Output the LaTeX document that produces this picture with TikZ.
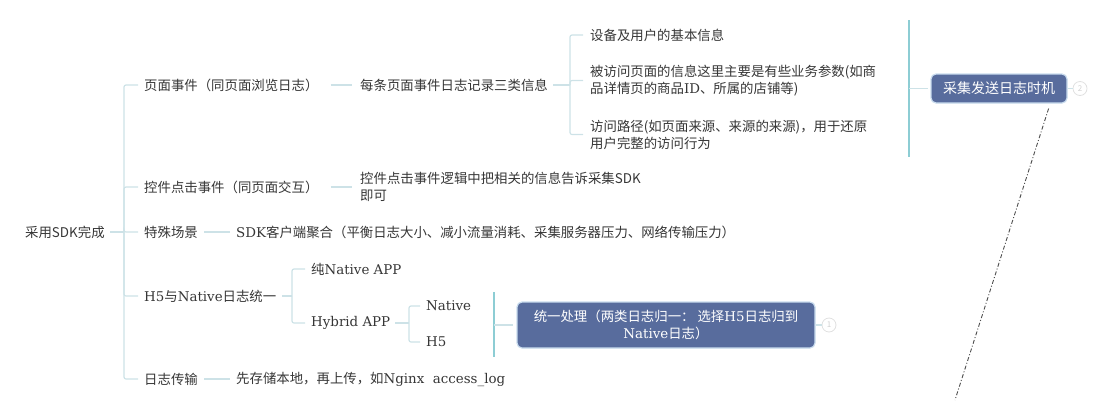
\documentclass[tikz,border=0pt]{standalone}
\usepackage{fontspec}
\setmainfont{Noto Sans CJK SC}
\newfontfamily\latin{DejaVu Serif}
\newcommand{\en}[1]{{\latin #1}}
\usetikzlibrary{calc}
\definecolor{linkc}{HTML}{CDE2E7}
\definecolor{sumc}{HTML}{8DCDD4}
\definecolor{boxc}{HTML}{586C9D}
\definecolor{boxedge}{HTML}{C9DCEE}
\definecolor{textc}{HTML}{363636}
\tikzset{
    topic/.style={anchor=west, inner sep=0pt, text=textc, align=left,
        font=\fontsize{13.4}{17}\selectfont},
    link/.style={draw=linkc, line width=1.2pt, rounded corners=2pt},
    bracket/.style={draw=sumc, line width=1.5pt},
    sumbox/.style={fill=boxc, draw=boxedge, line width=1.2pt, rounded corners=5pt,
        text=white, align=center, inner sep=0pt},
    fold/.style={circle, draw=black!12, line width=0.8pt, minimum size=14pt,
        inner sep=0pt, text=black!18, font=\fontsize{8}{8}\selectfont},
    relation/.style={draw=black!70, line width=0.9pt, dash pattern=on 4pt off 2pt on 1pt off 2pt}
}

\begin{document}
\begin{tikzpicture}[x=1pt, y=-1pt]
    \useasboundingbox (0,0) rectangle (1112,400);

    % root and first level
    \node[topic] (root) at (25,232) {采用SDK完成};
    \coordinate (s0) at (124,232);

    \node[topic] (c1) at (144,85) {页面事件（同页面浏览日志）};
    \node[topic] (c2) at (144,187) {控件点击事件（同页面交互）};
    \node[topic] (c3) at (144,232) {特殊场景};
    \node[topic] (c4) at (144,296) {\en{H5}与\en{Native}日志统一};
    \node[topic] (c5) at (144,379) {日志传输};

    \draw[link] ([xshift=5pt]root.east) -- (s0);
    \foreach \c in {c1,c2,c3,c4,c5}
        \draw[link] (s0) |- ([xshift=-6pt]\c.west);

    % page events
    \node[topic] (g1) at (360,85) {每条页面事件日志记录三类信息};
    \draw[link] ([xshift=12pt]c1.east) -- ([xshift=-8pt]g1.west);
    \coordinate (s1) at (570,85);
    \node[topic] (l1) at (590,35) {设备及用户的基本信息};
    \node[topic] (l2) at (590,80.5) {被访问页面的信息这里主要是有些业务参数(如商\\品详情页的商品\en{ID}、所属的店铺等)};
    \node[topic] (l3) at (590,134.5) {访问路径(如页面来源、来源的来源)，用于还原\\用户完整的访问行为};
    \draw[link] ([xshift=5pt]g1.east) -- (s1);
    \foreach \l in {l1,l2,l3}
        \draw[link] (s1) |- ([xshift=-7pt]\l.west);

    % click events, special cases
    \node[topic] (g2) at (360,187) {控件点击事件逻辑中把相关的信息告诉采集SDK\\即可};
    \draw[link] ([xshift=12pt]c2.east) -- ([xshift=-8pt]g2.west);
    \node[topic] (g3) at (236,232) {\en{SDK}客户端聚合（平衡日志大小、减小流量消耗、采集服务器压力、网络传输压力）};
    \draw[link] ([xshift=6pt]c3.east) -- ([xshift=-6pt]g3.west);

    % H5 and Native
    \coordinate (s4) at (292,296);
    \node[topic] (h1) at (311,269) {纯\en{Native APP}};
    \node[topic] (h2) at (311,323) {\en{Hybrid APP}};
    \draw[link] ([xshift=6pt]c4.east) -- (s4);
    \foreach \h in {h1,h2}
        \draw[link] (s4) |- ([xshift=-6pt]\h.west);
    \coordinate (s5) at (409,323);
    \node[topic] (n1) at (426,306) {\en{Native}};
    \node[topic] (n2) at (426,342) {\en{H5}};
    \draw[link] ([xshift=5pt]h2.east) -- (s5);
    \foreach \n in {n1,n2}
        \draw[link] (s5) |- ([xshift=-6pt]\n.west);

    % log transfer
    \node[topic] (g5) at (236,379) {先存储本地，再上传，如\en{Nginx\ \ access\_log}};
    \draw[link] ([xshift=6pt]c5.east) -- ([xshift=-6pt]g5.west);

    % summaries
    \node[sumbox, minimum width=136pt, minimum height=29pt, font=\fontsize{14}{17}\selectfont]
        (b1) at (999,88.5) {采集发送日志时机};
    \coordinate (t1) at (909,20);
    \coordinate (t1b) at (909,157);
    \coordinate (t1m) at (909,88.5);
    \draw[bracket] (t1) -- (t1b);
    \draw[link] (t1m) -- ([xshift=-2pt]b1.west);
    \node[fold] (f1) at (1080,88.5) {2};
    \draw[link] (b1.east) -- (f1.west);

    \node[sumbox, minimum width=298pt, minimum height=46pt, font=\fontsize{13.4}{17}\selectfont]
        (b2) at (666,325) {统一处理（两类日志归一：\ 选择\en{H5}日志归到\\\en{Native}日志）};
    \coordinate (t2) at (494,292);
    \coordinate (t2b) at (494,357);
    \coordinate (t2m) at (494,325);
    \draw[bracket] (t2) -- (t2b);
    \draw[link] (t2m) -- ([xshift=-3pt]b2.west);
    \node[fold] (f2) at (829,325) {1};
    \draw[link] (b2.east) -- (f2.west);

    % relation line
    \coordinate (rel) at (955,400);
    \draw[relation] ($(b1.south east)+(-19,5)$) -- (rel);
\end{tikzpicture}
\end{document}
